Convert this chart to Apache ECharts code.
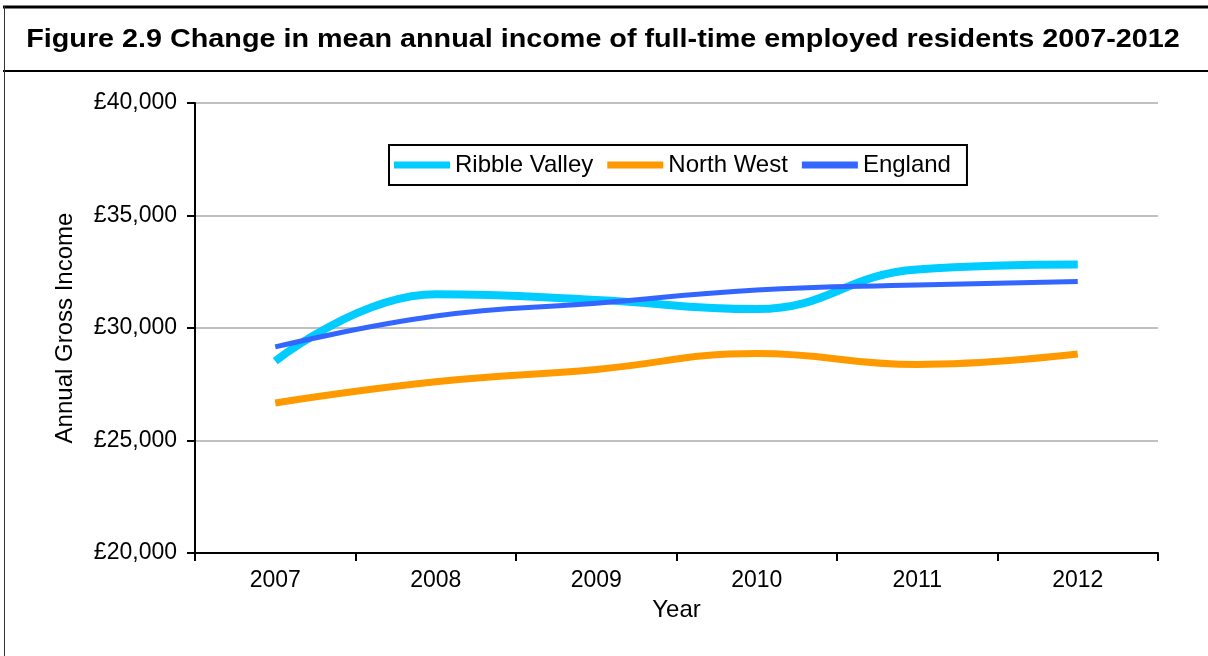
<!DOCTYPE html>
<html>
<head>
<meta charset="utf-8">
<script src="https://cdn.jsdelivr.net/npm/echarts@6/dist/echarts.min.js"></script>
<style>
html,body{margin:0;padding:0;background:#fff;}
#c{width:1208px;height:656px;}
</style>
</head>
<body>
<div id="c"></div>
<script>
const years = ['2007','2008','2009','2010','2011','2012'];
const ribbleValley = [28530, 31500, 31250, 30840, 32600, 32820];
const northWest = [26670, 27610, 28160, 28870, 28380, 28840];
const england = [29160, 30530, 31100, 31690, 31910, 32070];
const yTicks = [20000, 25000, 30000, 35000, 40000];

const chart = echarts.init(document.getElementById('c'), null, {renderer:'canvas'});
const font = 'Liberation Sans, Arial, sans-serif';
chart.setOption({
  animation:false,
  backgroundColor:'#fff',
  graphic:[
    {type:'line', shape:{x1:3,y1:7,x2:1208,y2:7}, style:{stroke:'#000',lineWidth:3}},
    {type:'line', shape:{x1:3,y1:71,x2:1208,y2:71}, style:{stroke:'#000',lineWidth:2}},
    {type:'line', shape:{x1:4.5,y1:6,x2:4.5,y2:656}, style:{stroke:'#333',lineWidth:1}},
    {type:'text', x:603, y:40, scaleX:1.15, originX:0, originY:0,
     style:{text:'Figure 2.9 Change in mean annual income of full-time employed residents 2007-2012',
            font:'bold 25px '+font, fill:'#000', align:'center', verticalAlign:'middle'}}
  ],
  legend:{
    left:389, top:145,
    data:['Ribble Valley','North West','England'],
    icon:'rect', itemWidth:56, itemHeight:7, itemGap:14,
    borderColor:'#000', borderWidth:2, padding:[8,16,8,5],
    textStyle:{fontFamily:font, fontSize:24, color:'#000'}
  },
  grid:{left:195, right:50, top:103, bottom:103},
  xAxis:{
    type:'category', data:years, boundaryGap:true,
    name:'Year', nameLocation:'middle', nameGap:45,
    nameTextStyle:{fontFamily:font, fontSize:24, color:'#000'},
    axisLine:{lineStyle:{color:'#000', width:2}},
    axisTick:{show:true, length:8, lineStyle:{color:'#000', width:2}},
    axisLabel:{fontFamily:font, fontSize:23, color:'#000', margin:16},
    splitLine:{show:false}
  },
  yAxis:{
    type:'value', min:yTicks[0], max:yTicks[yTicks.length-1], interval:5000,
    name:'Annual Gross Income', nameLocation:'middle', nameGap:118, nameRotate:90,
    nameTextStyle:{fontFamily:font, fontSize:24, color:'#000'},
    axisLine:{show:true, lineStyle:{color:'#000', width:2}},
    axisTick:{show:true, length:8, lineStyle:{color:'#000', width:2}},
    axisLabel:{fontFamily:font, fontSize:23, color:'#000', margin:18,
      formatter:v=>'£'+v.toLocaleString('en-GB')},
    splitLine:{show:true, lineStyle:{color:'#c0c0c0', width:2}}
  },
  series:[
    {name:'Ribble Valley', type:'line', data:ribbleValley, smooth:0.45, showSymbol:false, symbol:'none',
     color:'#00ccff', lineStyle:{width:8, color:'#00ccff'}, z:3},
    {name:'North West', type:'line', data:northWest, smooth:0.45, showSymbol:false, symbol:'none',
     color:'#ff9900', lineStyle:{width:7, color:'#ff9900'}, z:3},
    {name:'England', type:'line', data:england, smooth:0.45, showSymbol:false, symbol:'none',
     color:'#3366ff', lineStyle:{width:5, color:'#3366ff'}, z:4}
  ]
});
</script>
</body>
</html>
